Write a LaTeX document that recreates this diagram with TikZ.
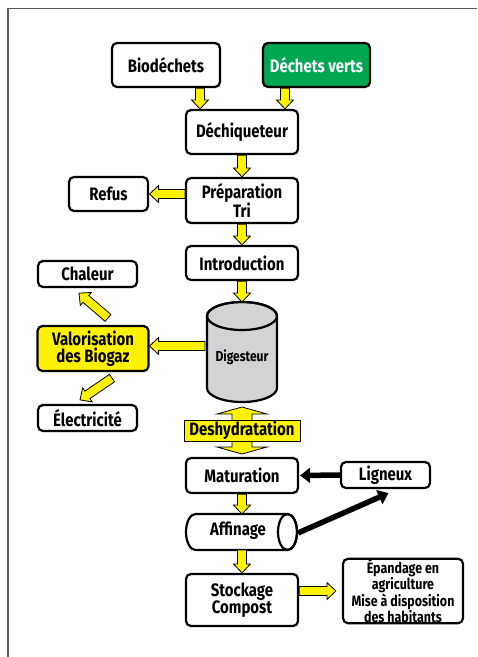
\documentclass[tikz,border=0pt]{standalone}
\usepackage{fontspec}
\setmainfont{Fira Sans}[FakeStretch=0.83]
\usetikzlibrary{calc,arrows.meta}
\definecolor{ygel}{HTML}{FFF200}
\definecolor{vertc}{HTML}{00A651}
\definecolor{cylc}{HTML}{D1D3D4}
\definecolor{framec}{HTML}{595959}
\newcommand\yarr[2]{%
  \coordinate (yh) at ($(#2)!9pt!(#1)$);
  \draw[yarrowstyle] ($(#1)!4.5pt!90:(#2)$) -- ($(yh)!4.5pt!90:(#2)$) -- ($(yh)!8.5pt!90:(#2)$) -- (#2) -- ($(yh)!8.5pt!-90:(#2)$) -- ($(yh)!4.5pt!-90:(#2)$) -- ($(#1)!4.5pt!-90:(#2)$) -- cycle;}
\tikzset{
  box/.style={draw=black, line width=2.2pt, rounded corners=5pt, fill=white, align=center, inner sep=0pt,
    font=\fontsize{18}{17}\selectfont\bfseries},
  yarrowstyle/.style={fill=ygel, draw=black, line width=0.8pt, line join=miter},
  barrow/.style={line width=5.5pt, -{Triangle[length=10pt,width=15pt]}},
  cylline/.style={draw=black, line width=2.2pt},
}
\begin{document}
\begin{tikzpicture}[x=1pt,y=-1pt]
\useasboundingbox (0,0) rectangle (478,657);
\fill[white] (0,0) rectangle (478,657);
\draw[framec, line width=1.8pt] (477,8.5) -- (8,8.5) -- (8,657);

% nodes
\node[box, minimum width=108pt, minimum height=44pt] (bio) at (166,65) {Biodéchets};
\node[box, fill=vertc, text=white, minimum width=107pt, minimum height=44pt] (vert) at (316.5,65) {Déchets verts};
\node[box, minimum width=112pt, minimum height=44pt] (dech) at (242,132) {Déchiqueteur};
\node[box, minimum width=112pt, minimum height=45pt] (prep) at (242,200.5) {Préparation\\Tri};
\node[box, minimum width=79pt, minimum height=34pt] (refus) at (108.5,194) {Refus};
\node[box, minimum width=112pt, minimum height=34pt] (intro) at (242,263) {Introduction};
\node[box, fill=ygel, minimum width=111pt, minimum height=45pt] (valo) at (93,348.5) {Valorisation\\des Biogaz};
\node[box, minimum width=99pt, minimum height=26pt] (chal) at (87.5,274) {Chaleur};
\node[box, minimum width=99pt, minimum height=26pt] (elec) at (87.5,418) {Électricité};
\node[box, minimum width=112pt, minimum height=35pt] (mat) at (242,475.5) {Maturation};
\node[box, minimum width=89pt, minimum height=26pt] (lig) at (385.5,475) {Ligneux};
\node[box, minimum width=112pt, minimum height=52pt] (stock) at (242,600) {Stockage\\Compost};
\node[box, minimum width=120pt, minimum height=64pt, font=\fontsize{15}{14.6}\selectfont\bfseries] (epand) at (403,591)
  {Épandage en\\agriculture\\Mise à disposition\\des habitants};

% digesteur cylinder
\draw[cylline, fill=cylc] (207,316) -- (207,388) arc[start angle=180, end angle=0, x radius=35, y radius=14]
  -- (277,316) arc[start angle=0, end angle=-180, x radius=35, y radius=14] -- cycle;
\draw[cylline] (242,316) ellipse [x radius=35, y radius=14];
\node[font=\fontsize{14.5}{15}\selectfont\bfseries, inner sep=0pt] (dig) at (242,357) {Digesteur};
\coordinate (digtop) at (242,302);
\coordinate (digleft) at (205,346);

% affinage cylinder
\draw[cylline, fill=white] (195.5,514) arc[start angle=270, end angle=90, x radius=9.5, y radius=18]
  -- (287.5,550) arc[start angle=90, end angle=-90, x radius=9.5, y radius=18] -- cycle;
\draw[cylline] (287.5,532) ellipse [x radius=9.5, y radius=18];
\node[font=\fontsize{18}{17}\selectfont\bfseries, inner sep=0pt] (aff) at (238,531) {Affinage};
\coordinate (afftop) at (242,514);
\coordinate (affbot) at (242,550);
\coordinate (affend) at (298,533);

% deshydratation
\draw[yarrowstyle] (242,407) -- (267,414) -- (252,414) -- (252,447) -- (267,447) -- (242,454)
  -- (217,447) -- (232,447) -- (232,414) -- (217,414) -- cycle;
\node[draw=black, line width=0.8pt, fill=ygel, minimum width=116pt, minimum height=21pt, inner sep=0pt,
  font=\fontsize{18}{17}\selectfont\bfseries] (desh) at (242,430.5) {Deshydratation};

% yellow arrows
\coordinate (b1) at ($(bio.south)+(34,0)$);
\coordinate (b2) at (b1 |- dech.north);
\yarr{b1}{b2}
\coordinate (v1) at ($(vert.south)+(-31.5,0)$);
\coordinate (v2) at (v1 |- dech.north);
\yarr{v1}{v2}
\yarr{dech.south}{prep.north}
\coordinate (r1) at (prep.west |- refus.east);
\coordinate (r2) at ($(refus.east)+(0.5,0)$);
\yarr{r1}{r2}
\yarr{prep.south}{intro.north}
\yarr{intro.south}{digtop}
\coordinate (g2) at (valo.east |- digleft);
\yarr{digleft}{g2}
\coordinate (c1) at ($(valo.north)+(15,-7)$);
\coordinate (c2) at ($(chal.south)+(-8.5,5)$);
\yarr{c1}{c2}
\coordinate (e1) at ($(valo.south)+(19,6)$);
\coordinate (e2) at ($(elec.north)+(-7.5,-4)$);
\yarr{e1}{e2}
\yarr{mat.south}{afftop}
\yarr{affbot}{stock.north}
\coordinate (s1) at (stock.east |- epand.west);
\coordinate (s2) at ($(epand.west)+(-6,0)$);
\yarr{s1}{s2}

% black arrows
\draw[barrow] (lig.west) -- ($(mat.east)+(1,0)$);
\coordinate (l2) at ($(lig.south)+(3,4)$);
\draw[barrow] (affend) -- (l2);
\end{tikzpicture}
\end{document}
